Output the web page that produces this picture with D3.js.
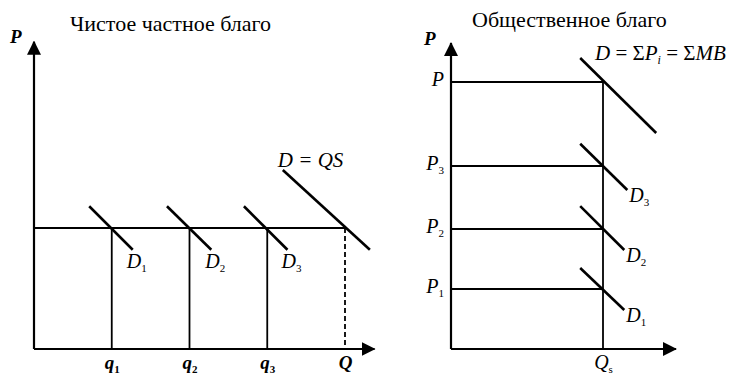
<!DOCTYPE html>
<html>
<head>
<meta charset="utf-8">
<script src="https://cdn.jsdelivr.net/npm/d3@7"></script>
<style>
  body { margin: 0; background: #fff; }
  text { font-family: "Liberation Serif", "DejaVu Serif", serif; fill: #000; }
</style>
</head>
<body>
<div id="chart"></div>
<script>
// DATA
// left panel: private good
const privateTitle = "Чистое частное благо"
const privateQ = [1, 2, 3, 4]               // q1, q2, q3, Q
const privateQLabels = [["q", "1"], ["q", "2"], ["q", "3"], ["Q", ""]]
const privatePrice = 1
// individual demand segments [x1, y1, x2, y2] in data units
const privateDemand = [
  [0.71, 1.18, 1.27, 0.82],
  [1.71, 1.18, 2.28, 0.82],
  [2.70, 1.18, 3.26, 0.82]
]
const privateDemandLabels = ["1", "2", "3"]
const privateTotal = [3.2, 1.48, 4.32, 0.82]  // D = QS

// right panel: public good
const publicTitle = "Общественное благо"
const publicQ = 1
const publicPrices = [4.45, 3.05, 2.0, 1.0]   // P, P3, P2, P1
const publicPriceLabels = [["P", ""], ["P", "3"], ["P", "2"], ["P", "1"]]
const publicDemand = [
  [0.85, 3.42, 1.16, 2.65],
  [0.85, 2.38, 1.14, 1.65],
  [0.85, 1.35, 1.14, 0.65]
]
const publicDemandLabels = ["3", "2", "1"]
const publicTotal = [0.85, 4.85, 1.35, 3.6]   // D = ΣPi = ΣMB

const width = 735, height = 377

const svg = d3.select("#chart").append("svg")
  .attr("width", width)
  .attr("height", height)

svg.append("defs").append("marker")
  .attr("id", "arrow")
  .attr("markerUnits", "userSpaceOnUse")
  .attr("viewBox", "0 0 14 14")
  .attr("refX", 13).attr("refY", 7)
  .attr("markerWidth", 14).attr("markerHeight", 14)
  .attr("orient", "auto")
  .append("path")
    .attr("d", "M0,0L14,7L0,14Z")
    .attr("fill", "#000")

// helper: italic letter + small upright subscript
function subText(sel, main, sub, size) {
  sel.append("tspan").attr("font-style", "italic").attr("font-size", size).text(main)
  if (sub) sel.append("tspan").attr("font-size", 11).attr("dy", 4).text(sub)
}

// ---------- LEFT PANEL ----------
const xL = d3.scaleLinear().domain([0, 4]).range([34, 345])
const yL = d3.scaleLinear().domain([0, 1]).range([349, 228])
const left = svg.append("g")

// axes lines
left.append("line")
  .attr("x1", xL(0)).attr("y1", yL(0))
  .attr("x2", xL(4.38)).attr("y2", yL(0))
  .attr("stroke", "#000").attr("stroke-width", 2.2)
  .attr("marker-end", "url(#arrow)")
left.append("line")
  .attr("x1", xL(0)).attr("y1", yL(0))
  .attr("x2", xL(0)).attr("y2", yL(2.54))
  .attr("stroke", "#000").attr("stroke-width", 2.2)
  .attr("marker-end", "url(#arrow)")

// x tick labels via d3 axis
const xAxisL = d3.axisBottom(xL).tickValues(privateQ).tickSize(0).tickPadding(13)
const gxL = left.append("g")
  .attr("transform", `translate(0, ${yL(0)})`)
  .call(xAxisL)
gxL.select(".domain").remove()
gxL.selectAll("text").each(function(d, i) {
  const t = d3.select(this).text("").attr("font-size", null).attr("font-weight", "bold")
  subText(t, privateQLabels[i][0], privateQLabels[i][1], 19)
})

// price line
left.append("line")
  .attr("x1", xL(0)).attr("y1", yL(privatePrice))
  .attr("x2", xL(4)).attr("y2", yL(privatePrice))
  .attr("stroke", "#000").attr("stroke-width", 1.8)

// vertical lines at quantities
left.selectAll(".qline")
  .data(privateQ)
  .join("line")
    .attr("class", "qline")
    .attr("x1", d => xL(d)).attr("x2", d => xL(d))
    .attr("y1", yL(privatePrice)).attr("y2", yL(0))
    .attr("stroke", "#000").attr("stroke-width", 1.8)
    .attr("stroke-dasharray", (d, i) => i === privateQ.length - 1 ? "5,3" : null)

// demand segments
left.selectAll(".dem")
  .data(privateDemand.concat([privateTotal]))
  .join("line")
    .attr("class", "dem")
    .attr("x1", d => xL(d[0])).attr("y1", d => yL(d[1]))
    .attr("x2", d => xL(d[2])).attr("y2", d => yL(d[3]))
    .attr("stroke", "#000").attr("stroke-width", 2.6)

left.selectAll(".dlab")
  .data(privateDemand)
  .join("text")
    .attr("class", "dlab")
    .attr("x", d => xL(d[2]) - 6)
    .attr("y", d => yL(d[3]) + 18)
    .each(function(d, i) { subText(d3.select(this), "D", privateDemandLabels[i], 20) })

left.append("text")
  .attr("x", xL(privateTotal[0]) - 5)
  .attr("y", yL(privateTotal[1]) - 3)
  .attr("font-style", "italic").attr("font-size", 21)
  .text("D = QS")

left.append("text")
  .attr("x", 10).attr("y", 43)
  .attr("font-style", "italic").attr("font-weight", "bold").attr("font-size", 19)
  .text("P")

left.append("text")
  .attr("x", 70).attr("y", 31)
  .attr("font-size", 22)
  .text(privateTitle)

// ---------- RIGHT PANEL ----------
const xR = d3.scaleLinear().domain([0, 1]).range([451, 603])
const yR = d3.scaleLinear().domain([0, 1]).range([349, 289])
const right = svg.append("g")

right.append("line")
  .attr("x1", xR(0)).attr("y1", yR(0))
  .attr("x2", xR(1.48)).attr("y2", yR(0))
  .attr("stroke", "#000").attr("stroke-width", 2.2)
  .attr("marker-end", "url(#arrow)")
right.append("line")
  .attr("x1", xR(0)).attr("y1", yR(0))
  .attr("x2", xR(0)).attr("y2", yR(5.1))
  .attr("stroke", "#000").attr("stroke-width", 2.2)
  .attr("marker-end", "url(#arrow)")

const yAxisR = d3.axisLeft(yR).tickValues(publicPrices).tickSize(0).tickPadding(7)
const gyR = right.append("g")
  .attr("transform", `translate(${xR(0)}, 0)`)
  .call(yAxisR)
gyR.select(".domain").remove()
gyR.selectAll("text").each(function(d, i) {
  const t = d3.select(this).text("").attr("font-size", null).attr("dy", "0.3em")
  subText(t, publicPriceLabels[i][0], publicPriceLabels[i][1], 20)
})

const xAxisR = d3.axisBottom(xR).tickValues([publicQ]).tickSize(0).tickPadding(13)
const gxR = right.append("g")
  .attr("transform", `translate(0, ${yR(0)})`)
  .call(xAxisR)
gxR.select(".domain").remove()
gxR.selectAll("text").each(function() {
  const t = d3.select(this).text("").attr("font-size", null)
  subText(t, "Q", "s", 20)
})

right.selectAll(".pline")
  .data(publicPrices)
  .join("line")
    .attr("class", "pline")
    .attr("x1", xR(0)).attr("x2", xR(publicQ))
    .attr("y1", d => yR(d)).attr("y2", d => yR(d))
    .attr("stroke", "#000").attr("stroke-width", 1.8)

right.append("line")
  .attr("x1", xR(publicQ)).attr("x2", xR(publicQ))
  .attr("y1", yR(d3.max(publicPrices))).attr("y2", yR(0))
  .attr("stroke", "#000").attr("stroke-width", 1.8)

right.selectAll(".dem")
  .data(publicDemand.concat([publicTotal]))
  .join("line")
    .attr("class", "dem")
    .attr("x1", d => xR(d[0])).attr("y1", d => yR(d[1]))
    .attr("x2", d => xR(d[2])).attr("y2", d => yR(d[3]))
    .attr("stroke", "#000").attr("stroke-width", 2.6)

right.selectAll(".dlab")
  .data(publicDemand)
  .join("text")
    .attr("class", "dlab")
    .attr("x", d => xR(d[2]) + 2)
    .attr("y", d => yR(d[3]) + 12)
    .each(function(d, i) { subText(d3.select(this), "D", publicDemandLabels[i], 20) })

// D = ΣPi = ΣMB
const tot = right.append("text")
  .attr("x", 595).attr("y", 60)
  .attr("font-size", 21)
tot.append("tspan").attr("font-style", "italic").text("D")
tot.append("tspan").text(" = Σ")
tot.append("tspan").attr("font-style", "italic").text("P")
tot.append("tspan").attr("font-style", "italic").attr("font-size", 12).attr("dy", 4).text("i")
tot.append("tspan").attr("dy", -4).text(" = Σ")
tot.append("tspan").attr("font-style", "italic").text("MB")

right.append("text")
  .attr("x", 424).attr("y", 45)
  .attr("font-style", "italic").attr("font-weight", "bold").attr("font-size", 19)
  .text("P")

right.append("text")
  .attr("x", 472).attr("y", 27)
  .attr("font-size", 22)
  .text(publicTitle)
</script>
</body>
</html>
